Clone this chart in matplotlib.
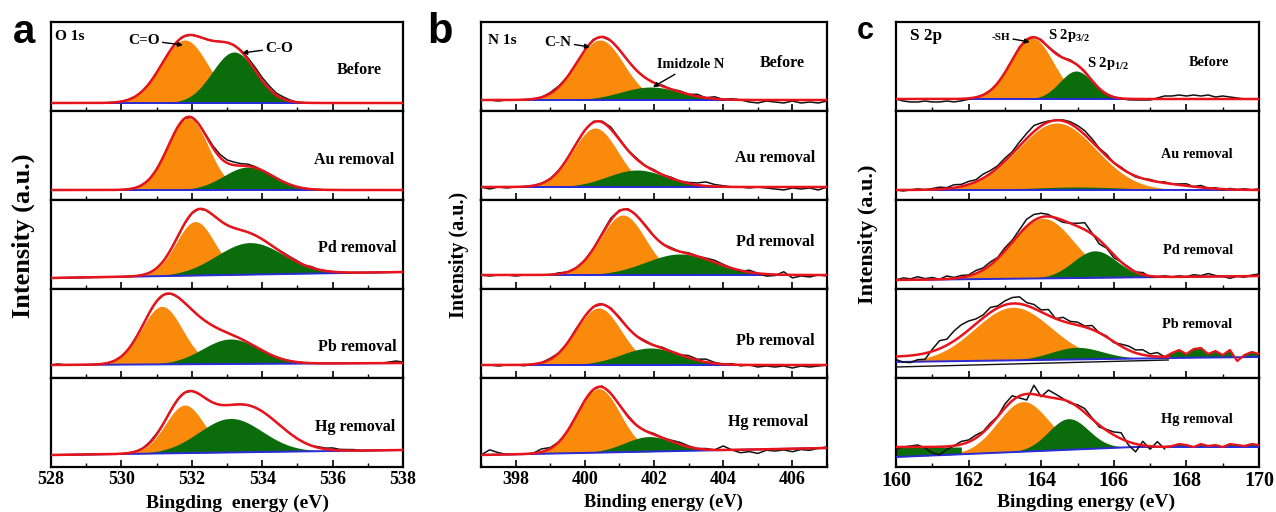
import numpy as np
import matplotlib
matplotlib.use("Agg")
import matplotlib.pyplot as plt
from matplotlib.ticker import MultipleLocator

plt.rcParams['font.family'] = ['Liberation Serif', 'DejaVu Serif']
plt.rcParams['font.weight'] = 'bold'
plt.rcParams['mathtext.fontset'] = 'custom'
plt.rcParams['mathtext.rm'] = 'Liberation Serif:bold'
plt.rcParams['mathtext.it'] = 'Liberation Serif:bold'
plt.rcParams['mathtext.bf'] = 'Liberation Serif:bold'

# ------------------------------------------------------------------ data
samples = ["Before", "Au removal", "Pd removal", "Pb removal", "Hg removal"]

# ---- O 1s  (peak = [centre eV, height, sigma eV]) ----
o1s_range = [528, 538]
o1s_orange = [[531.8, 63, 0.66], [531.9, 72, 0.57], [532.1, 54, 0.55], [531.15, 58, 0.58], [531.8, 48, 0.55]]
o1s_green = [[533.2, 51, 0.62], [533.6, 23, 0.70], [533.65, 32, 0.95], [533.1, 25, 0.80], [533.1, 34, 0.90]]
o1s_extra = [None, None, [533.2, 11, 0.65], [532.0, 25, 0.60], [534.0, 20, 0.80]]
o1s_bg = [[[528, 8], [538, 8]], [[528, 10], [538, 10]], [[528, 11], [538, 17]],
          [[528, 13], [538, 15]], [[528, 12], [538, 17]]]
o1s_redbase = [None, None, None, None, None]
o1s_step = 0.2
o1s_resid = [
    [0,0,0,0,0,0,0,0,0,0, 0,0,0,0,0,0,0,0,0,0, 0,0,0,0,0,0,0,1,2,3, 3,3,2,2,1,0,0,0,0,0, 0,0,0,0,0,0,0,0,0,0, 0],
    [0,0,0,0,0,0,0,0,0,0, 0,0,0,0,0,0,0,0,0,0, 0,0,1,2,3,3,3,2,2,1, 0,0,0,0,0,0,0,0,0,0, 0,0,0,0,0,0,0,0,0,0, 0],
    [0,0,0,0,0,0,0,0,0,0, 0,0,0,0,0,0,0,0,0,0, 0,0,0,0,0,0,0,0,0,0, 0,0,0,1,1,1,0,1,0,0, 0,0,0,0,0,0,0,0,0,0, 0],
    [0,1,0,0,0,0,0,0,0,0, 0,0,0,0,0,0,0,0,0,0, 0,0,0,0,0,0,0,0,0,0, 0,0,0,0,0,0,0,0,0,0, 0,0,0,0,0,0,0,0,1,2, 1],
    [0,0,0,0,0,0,0,0,0,0, 0,0,0,0,1,1,0,0,0,0, 0,0,0,0,0,0,0,0,0,0, 0,0,0,0,0,0,0,0,1,1, 2,1,1,1,0,0,0,0,0,0, 0],
]

# ---- N 1s ----
n1s_range = [397, 407]
n1s_orange = [[400.44, 60, 0.68], [400.3, 59, 0.65], [401.1, 60, 0.65], [400.4, 57, 0.65], [400.4, 64, 0.62]]
n1s_green = [[401.9, 13, 0.85], [401.5, 17, 0.85], [402.75, 21, 1.0], [401.9, 17, 0.85], [401.85, 15, 0.70]]
n1s_extra = [None, None, None, None, None]
n1s_bg = [[[397, 11], [407, 11]], [[397, 13], [407, 13]], [[397, 14], [407, 14]],
          [[397, 13], [407, 13]], [[397, 12], [407, 19]]]
n1s_redbase = [None, None, None, None, None]
n1s_step = 0.25
n1s_resid = [
    [0,0,-1,0, 0,0,0,0, 1,1,0,0, 0,1,0,0, 0,0,0,0, 0,1,0,1, 0,2,0,2, 0,1,0,-2, -3,-1,-2,-3, -1,-3,-2,-3, -1],
    [0,-2,0,-1, 0,0,0,0, 0,0,0,0, 0,1,1,2, 1,0,1,0, 1,0,1,0, 1,2,4,2, 1,0,0,-1, 0,-1,-2,-3, -1,-2,-1,-3, 0],
    [0,-1,0,0, -1,0,0,0, 0,1,0,0, 0,0,1,2, 1,1,0,1, 0,0,1,0, 1,0,1,2, 1,0,-1,2, 0,-2,-1,3, -3,-1,-2,0, -1],
    [0,0,-1,0, 0,-1,0,0, 1,0,0,1, 0,0,0,1, 1,0,0,1, 0,1,0,0, 2,1,3,1, 0,1,-1,0, -2,-1,-2,-1, -3,-1,-2,-1, 0],
    [0,5,2,0, 0,0,0,3, 1,0,0,0, 0,0,1,0, 0,1,0,0, 1,0,1,2, 1,0,1,0, 4,0,-3,-2, -4,-1,-2,-1, -3,-1,-2,0, 1],
]

# ---- S 2p ----
s2p_range = [160, 170]
s2p_orange = [[163.75, 61, 0.58], [164.43, 67, 1.08], [164.05, 60, 0.85], [163.22, 53, 1.05], [163.5, 50, 0.70]]
s2p_green = [[164.96, 28, 0.45], [165.0, 3, 1.3], [165.48, 27, 0.60], [164.98, 12, 0.70], [164.75, 31, 0.55]]
s2p_extra = [None, [167.3, 5, 0.9], None, [165.6, 12, 0.6], [165.6, 12, 0.6]]
s2p_bg = [[[160, 12], [170, 12]], [[160, 10], [170, 10]], [[160, 9], [170, 13]],
          [[160, 16], [167.5, 20], [170, 21]], [[160, 10], [166.5, 20], [170, 20]]]
s2p_redbase = [None, None, None, 21, 20]
s2p_step = 0.2
s2p_resid = [
    [0,-2,-3,-3,-2,-3,-3,-2,-3,-2, -1,0,0,0,0,0,0,1,0,0, 1,0,1,0,1,0,1,0,0,0, 0,0,-1,-1,-1,-1,1,3,3,4, 3,4,3,4,2,3,2,1,0,0, 0],
    [0,-1,0,1,0,1,2,1,3,2, 3,2,4,3,2,3,2,4,5,6, 3,1,0,1,2,3,4,3,1,2, 0,1,0,-1,0,1,0,1,0,1, 2,0,2,0,1,-1,1,0,1,0, 1],
    [0,2,1,3,1,2,0,3,1,2, 1,3,2,3,1,3,2,4,7,6, 4,2,-1,-2,0,3,7,1,-4,-1, -3,0,1,0,2,-1,0,1,0,1, 0,2,1,3,1,0,-2,0,-1,1, 2],
    [-3,-6,-7,-5,-6,2,8,6,10,11, 9,5,3,5,2,4,6,7,3,4, 2,6,0,4,2,3,1,4,0,1, -1,2,4,3,5,2,4,0,4,7, 3,8,9,3,6,2,7,-4,2,5, 3],
    [-2,0,1,2,-1,-6,-8,-3,0,3, 2,3,1,2,0,4,5,-2,-6,9, -1,7,4,1,-1,2,4,1,-2,1, 3,6,-3,-8,4,-3,5,-2,1,3, 2,0,3,1,2,0,3,2,1,3, 2],
]
s2p_tail_start = [None, None, None, 167.5, 167.5]
s2p_left_green_end = [None, None, None, None, 161.8]
s2p_pb_raw_bg = [[160, 167.5], [11, 18]]

# ------------------------------------------------------------------ style
W, H = 1276, 512
ROW_H = 89
TOP = 22
C_OR = '#FA8A0C'
C_GR = '#0B6C0B'
C_RED = '#E8141C'
C_BLUE = '#2A2AD8'

fig = plt.figure(figsize=(W / 100, H / 100), dpi=100)


def gauss(E, p):
    if p is None:
        return np.zeros_like(E)
    c, h, s = p
    return h * np.exp(-0.5 * ((E - c) / s) ** 2)


def draw_panel(left, right, rng, orange, green, extra, bg, redbase, step, resid,
               lab_pos, lab_fs, tick_fs, tail_start=None, left_green=None):
    axes = []
    for i in range(5):
        top = TOP + ROW_H * i
        ax = fig.add_axes([left / W, 1 - (top + ROW_H) / H, (right - left) / W, ROW_H / H])
        E = np.linspace(rng[0], rng[1], 1201)
        kx = [k[0] for k in bg[i]]
        ky = [k[1] for k in bg[i]]
        bgE = np.interp(E, kx, ky)
        rb = bgE if redbase[i] is None else np.full_like(E, redbase[i])
        po = gauss(E, orange[i])
        pg = gauss(E, green[i])
        pe = gauss(E, extra[i])
        env = rb + po + pg + pe

        ax.fill_between(E, bgE, bgE + po, where=po > 0.4, color=C_OR, lw=0, zorder=1)
        ax.fill_between(E, bgE, bgE + pg, where=pg > 0.4, color=C_GR, lw=0, zorder=2)
        if left_green is not None and left_green[i] is not None:
            m = E <= left_green[i]
            ax.fill_between(E[m], bgE[m], rb[m], color=C_GR, lw=0, zorder=2)
        ax.plot(E, bgE, color=C_BLUE, lw=1.4, zorder=3)

        Er = rng[0] + step * np.arange(len(resid[i]))
        env_r = np.interp(Er, E, env)
        raw = env_r + np.array(resid[i], dtype=float)
        ts = None if tail_start is None else tail_start[i]
        if ts is None:
            ax.plot(Er, raw, color='#111111', lw=1.1, zorder=4)
            ax.plot(E, env, color=C_RED, lw=1.8, zorder=5)
        else:
            mr = Er <= ts
            ax.plot(Er[mr], raw[mr], color='#111111', lw=1.1, zorder=4)
            me = E <= ts
            ax.plot(E[me], env[me], color=C_RED, lw=1.8, zorder=5)
            mt = Er >= ts - step
            base_t = np.full(mt.sum(), float(redbase[i]))
            tail_y = base_t + np.array(resid[i], dtype=float)[mt]
            tail_y[0] = base_t[0]
            ax.fill_between(Er[mt], base_t, tail_y, where=tail_y > base_t,
                            interpolate=True, color=C_GR, lw=0, zorder=2)
            ax.plot(Er[mt], tail_y, color=C_RED, lw=1.6, zorder=5)

        ax.set_xlim(rng)
        ax.set_ylim(0, ROW_H)
        ax.set_yticks([])
        ax.xaxis.set_major_locator(MultipleLocator(2))
        ax.xaxis.set_minor_locator(MultipleLocator(1))
        ax.tick_params(axis='x', which='major', direction='in', length=5, width=1.2,
                       labelsize=tick_fs, pad=3)
        ax.tick_params(axis='x', which='minor', direction='in', length=3, width=1.0)
        for sp in ax.spines.values():
            sp.set_linewidth(1.6)
        if i < 4:
            ax.tick_params(axis='x', labelbottom=False)
        else:
            for t in ax.get_xticklabels():
                t.set_fontweight('bold')
        ax.text(lab_pos[i][0], lab_pos[i][1], samples[i], ha='center', va='center',
                fontsize=lab_fs, fontweight='bold', zorder=6)
        axes.append(ax)
    return axes


ax_a = draw_panel(51, 403, o1s_range, o1s_orange, o1s_green, o1s_extra, o1s_bg,
                  o1s_redbase, o1s_step, o1s_resid,
                  [(536.75, 41), (536.6, 40), (536.7, 41), (536.7, 31), (536.65, 40)],
                  11.5, 13)
ax_b = draw_panel(481, 827, n1s_range, n1s_orange, n1s_green, n1s_extra, n1s_bg,
                  n1s_redbase, n1s_step, n1s_resid,
                  [(405.7, 48), (405.5, 42), (405.5, 47), (405.5, 37), (405.3, 45)],
                  11.5, 13)
ax_c = draw_panel(896, 1259, s2p_range, s2p_orange, s2p_green, s2p_extra, s2p_bg,
                  s2p_redbase, s2p_step, s2p_resid,
                  [(168.62, 49), (168.3, 45), (168.33, 39), (168.3, 53), (168.3, 47)],
                  10.3, 14.5, tail_start=s2p_tail_start, left_green=s2p_left_green_end)

# raw background line in the Pb row of S 2p
ax_c[3].plot(s2p_pb_raw_bg[0], s2p_pb_raw_bg[1], color='#111111', lw=1.0, zorder=4)

# core-level labels and annotations
ax_a[0].text(528.11, 75, "O 1s", ha='left', va='center', fontsize=11, fontweight='bold')
ax_b[0].text(397.2, 71, "N 1s", ha='left', va='center', fontsize=11, fontweight='bold')
ax_c[0].text(160.39, 75, "S 2p", ha='left', va='center', fontsize=12.3, fontweight='bold')

arr = dict(arrowstyle='-|>', color='black', lw=1.0, mutation_scale=7, shrinkA=0, shrinkB=0)
ax_a[0].annotate("C=O", xy=(531.75, 66), xytext=(530.64, 71), ha='center', va='center',
                 fontsize=11, fontweight='bold', arrowprops=arr, zorder=7)
ax_a[0].annotate("C-O", xy=(533.43, 58), xytext=(534.48, 63), ha='center', va='center',
                 fontsize=11, fontweight='bold', arrowprops=arr, zorder=7)
ax_b[0].annotate("C-N", xy=(400.15, 64), xytext=(399.23, 69), ha='center', va='center',
                 fontsize=11, fontweight='bold', arrowprops=arr, zorder=7)
ax_b[0].annotate("Imidzole N", xy=(401.97, 24), xytext=(403.07, 46), ha='center', va='center',
                 fontsize=10.3, fontweight='bold', arrowprops=arr, zorder=7)
ax_c[0].annotate("-SH", xy=(163.69, 69), xytext=(162.89, 74), ha='center', va='center',
                 fontsize=8, fontweight='bold', arrowprops=arr, zorder=7)
ax_c[0].text(164.19, 76, r"S 2p$_{3/2}$", ha='left', va='center', fontsize=10.5, fontweight='bold')
ax_c[0].text(165.26, 48, r"S 2p$_{1/2}$", ha='left', va='center', fontsize=10.5, fontweight='bold')

# axis labels
fig.text(23 / W, 1 - 236 / H, "Intensity (a.u.)", rotation=90, ha='center', va='center',
         fontsize=19, fontweight='bold')
fig.text(459 / W, 1 - 255 / H, "Intensity (a.u.)", rotation=90, ha='center', va='center',
         fontsize=14.5, fontweight='bold')
fig.text(868 / W, 1 - 234 / H, "Intensity (a.u.)", rotation=90, ha='center', va='center',
         fontsize=16, fontweight='bold')
fig.text(238 / W, 1 - 503 / H, "Bingding  energy (eV)", ha='center', va='center',
         fontsize=14, fontweight='bold')
fig.text(663 / W, 1 - 502 / H, "Binding energy (eV)", ha='center', va='center',
         fontsize=13.2, fontweight='bold')
fig.text(1086 / W, 1 - 502 / H, "Bingding energy (eV)", ha='center', va='center',
         fontsize=14, fontweight='bold')

# panel letters
for x, y, s, fs in [(13, 43, 'a', 29), (427, 43, 'b', 30), (857, 39, 'c', 22)]:
    fig.text(x / W, 1 - y / H, s, ha='left', va='baseline', fontsize=fs,
             fontweight='bold', family=['Liberation Sans', 'DejaVu Sans'])

fig.savefig("out.png", dpi=100)
